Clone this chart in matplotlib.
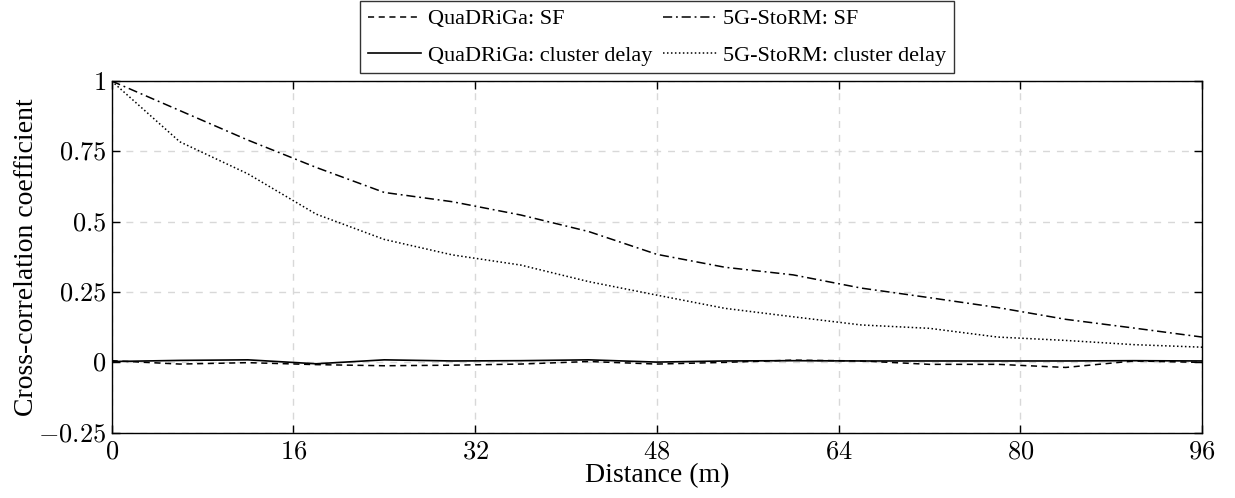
import numpy as np
import matplotlib
matplotlib.use("Agg")
import matplotlib.pyplot as plt
from matplotlib.ticker import FuncFormatter

plt.rcParams['font.family'] = ['Liberation Serif', 'DejaVu Serif']
plt.rcParams['mathtext.fontset'] = 'cm'

# distance (m)
dist = [0, 6, 12, 18, 24, 30, 36, 42, 48, 54, 60, 66, 72, 78, 84, 90, 96]

quad_sf = [0.006, -0.006, -0.001, -0.008, -0.012, -0.010, -0.006, 0.003, -0.006,
           0.000, 0.008, 0.005, -0.007, -0.007, -0.018, 0.005, 0.000]
quad_delay = [0.003, 0.007, 0.009, -0.005, 0.009, 0.005, 0.006, 0.009, 0.001,
              0.005, 0.006, 0.005, 0.005, 0.005, 0.005, 0.006, 0.005]
storm_sf = [1.0, 0.895, 0.79, 0.693, 0.604, 0.571, 0.524, 0.465, 0.384,
            0.338, 0.311, 0.264, 0.230, 0.195, 0.153, 0.122, 0.090]
storm_delay = [1.0, 0.784, 0.670, 0.527, 0.437, 0.382, 0.346, 0.287, 0.239,
               0.192, 0.162, 0.133, 0.121, 0.090, 0.078, 0.063, 0.054]

labels = ['QuaDRiGa: SF', 'QuaDRiGa: cluster delay',
          '5G-StoRM: SF', '5G-StoRM: cluster delay']

xticks = [0, 16, 32, 48, 64, 80, 96]
yticks = [-0.25, 0, 0.25, 0.5, 0.75, 1]

fig = plt.figure(figsize=(12.35, 4.98), dpi=100)
ax = fig.add_axes([0.0904, 0.1311, 0.8829, 0.7062])

ax.plot(dist, quad_sf, color='black', lw=1.1, linestyle=(0, (4, 3)), label=labels[0])
ax.plot(dist, quad_delay, color='black', lw=1.2, linestyle='-', label=labels[1])
ax.plot(dist, storm_sf, color='black', lw=1.1, linestyle=(0, (6, 2.5, 1.2, 2.5)), label=labels[2])
ax.plot(dist, storm_delay, color='black', lw=1.1, linestyle=(0, (1, 1.6)), label=labels[3])

ax.set_xlim(0, 96)
ax.set_ylim(-0.25, 1)
ax.set_xticks(xticks)
ax.set_yticks(yticks)

def fmt(v, pos):
    return '$' + ('%g' % v) + '$'

ax.xaxis.set_major_formatter(FuncFormatter(fmt))
ax.yaxis.set_major_formatter(FuncFormatter(fmt))
ax.tick_params(direction='in', top=True, right=True, labelsize=19, length=6, width=1)
ax.tick_params(axis='x', pad=6)
ax.tick_params(axis='y', pad=4)

ax.grid(True, color='#d8d8d8', linestyle=(0, (5, 5)), lw=1)
for s in ax.spines.values():
    s.set_linewidth(1)

ax.set_xlabel('Distance (m)', fontsize=20, labelpad=0)
ax.set_ylabel('Cross-correlation coefficient', fontsize=20, labelpad=-1)

leg = fig.legend(loc='upper center', bbox_to_anchor=(0.532, 1.0), ncol=2,
                 fontsize=16, frameon=True, fancybox=False, edgecolor='black',
                 handlelength=2.4, columnspacing=0.5, borderpad=0.35,
                 labelspacing=0.7, handletextpad=0.3, borderaxespad=0.05)
leg.get_frame().set_linewidth(1)

fig.savefig('out.png', dpi=100)
